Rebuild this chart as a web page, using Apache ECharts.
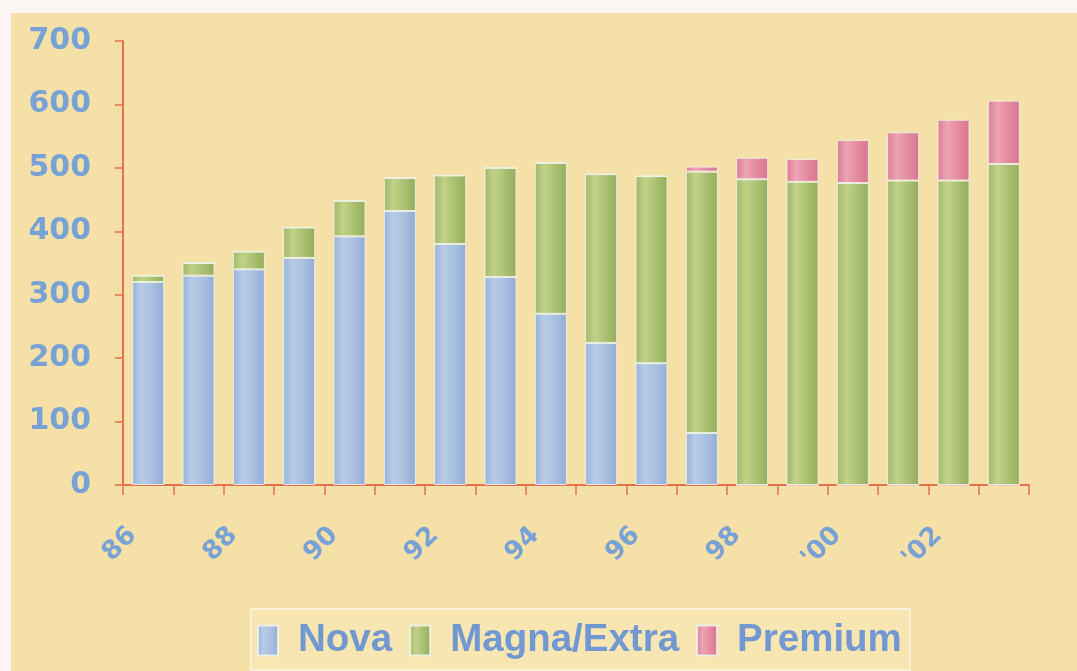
<!DOCTYPE html>
<html>
<head>
<meta charset="utf-8">
<title>Nova / Magna/Extra / Premium</title>
<script src="https://cdn.jsdelivr.net/npm/echarts@6/dist/echarts.min.js"></script>
<style>
  html, body { margin: 0; padding: 0; background: #fbf5f3; }
  #chart { width: 1077px; height: 671px; }
</style>
</head>
<body>
<div id="chart"></div>
<script>
// Years on the category axis
const years = ['86', '87', '88', '89', '90', '91', '92', '93', '94', '95',
               '96', '97', '98', '99', "'00", "'01", "'02", "'03"];

// Stacked volumes per grade
const nova    = [320, 330, 340, 358, 392, 432, 380, 328, 270, 224, 192,  82,   0,   0,   0,   0,   0,   0];
const magna   = [ 10,  20,  28,  48,  56,  52, 108, 172, 238, 266, 295, 412, 482, 478, 476, 480, 480, 506];
const premium = [  0,   0,   0,   0,   0,   0,   0,   0,   0,   0,   0,   8,  34,  36,  68,  76,  96, 100];

const seriesNames = ['Nova', 'Magna/Extra', 'Premium'];

// Y axis range
const yMin = 0, yMax = 700, yStep = 100;

// Cylinder-like shading across each bar
function shade(edgeL, light, mid, edgeR) {
  return new echarts.graphic.LinearGradient(0, 0, 1, 0, [
    { offset: 0, color: edgeL },
    { offset: 0.3, color: light },
    { offset: 0.65, color: mid },
    { offset: 1, color: edgeR }
  ]);
}

const fills = [
  shade('#98b2d9', '#b8cce7', '#a8bfe0', '#93acd5'),
  shade('#a0b966', '#c2d18a', '#a9c071', '#95ad5b'),
  shade('#dc7c94', '#eca4b5', '#e48aa0', '#d8758f')
];

const axisRed = '#e4704d';
const labelBlue = '#78a2d6';
const labelFont = 'DejaVu Sans';

const chart = echarts.init(document.getElementById('chart'), null, { renderer: 'canvas' });

const barSeries = [nova, magna, premium].map((values, i) => ({
  name: seriesNames[i],
  type: 'bar',
  stack: 'total',
  data: values,
  barWidth: 32,
  itemStyle: {
    color: fills[i],
    borderColor: 'rgba(238,244,236,0.85)',
    borderWidth: 1
  },
  emphasis: { disabled: true }
}));

chart.setOption({
  animation: false,
  backgroundColor: '#f5e0a8',
  graphic: [
    { type: 'rect', left: 0, top: 0, shape: { width: 1077, height: 13 }, style: { fill: '#fbf5f3' }, z: 0 },
    { type: 'rect', left: 0, top: 0, shape: { width: 11, height: 671 }, style: { fill: '#fbf5f3' }, z: 0 }
  ],
  grid: { left: 123, right: 48, top: 41, bottom: 186, containLabel: false },
  xAxis: {
    type: 'category',
    data: years,
    boundaryGap: true,
    axisLine: { show: true, lineStyle: { color: axisRed, width: 2 } },
    axisTick: { show: true, interval: 0, length: 10, lineStyle: { color: axisRed, width: 1.5 } },
    axisLabel: {
      interval: 1,
      rotate: 45,
      margin: 31,
      padding: [0, 22, 0, 0],
      color: labelBlue,
      fontFamily: labelFont,
      fontWeight: 'bold',
      fontSize: 26
    },
    splitLine: { show: false }
  },
  yAxis: {
    type: 'value',
    min: yMin,
    max: yMax,
    interval: yStep,
    axisLine: { show: true, lineStyle: { color: axisRed, width: 2 } },
    axisTick: { show: true, length: 8, lineStyle: { color: axisRed, width: 1.5 } },
    axisLabel: {
      margin: 32,
      color: labelBlue,
      fontFamily: labelFont,
      fontWeight: 'bold',
      fontSize: 30
    },
    splitLine: { show: false }
  },
  legend: {
    data: seriesNames,
    left: 251,
    top: 609,
    orient: 'horizontal',
    backgroundColor: '#f7e5b2',
    borderColor: '#fbf1da',
    borderWidth: 2,
    padding: [12, 8, 10, 6],
    itemGap: 17,
    itemWidth: 20,
    itemHeight: 30,
    icon: 'rect',
    textStyle: {
      color: '#7298d2',
      fontFamily: 'Liberation Sans',
      fontWeight: 'bold',
      fontSize: 38.5,
      padding: [0, 0, 0, 15]
    }
  },
  series: barSeries
});
</script>
</body>
</html>
